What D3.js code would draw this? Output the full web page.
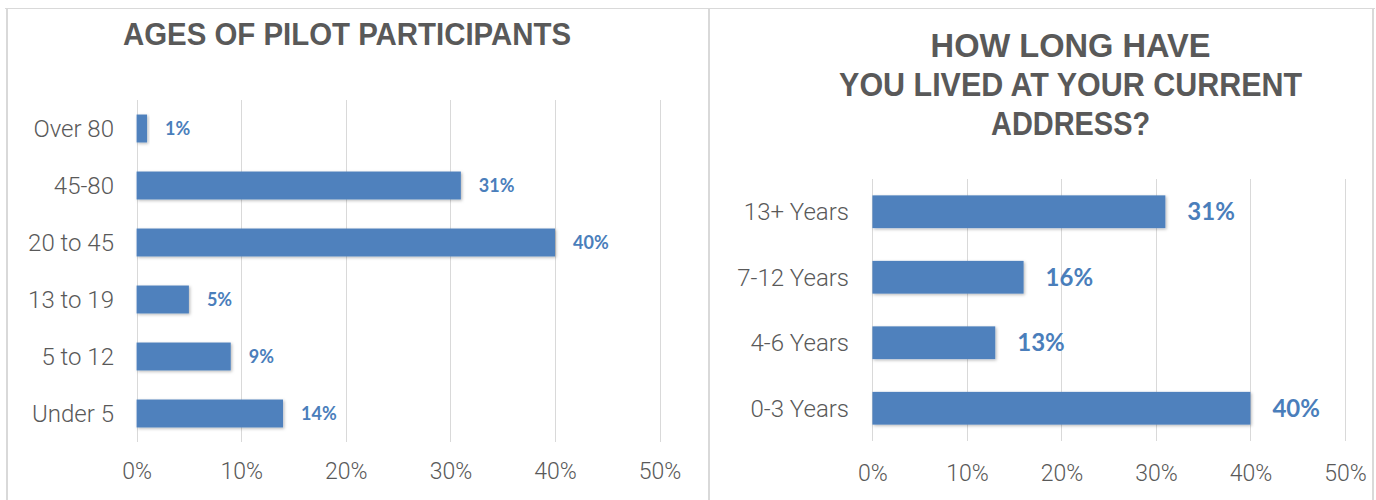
<!DOCTYPE html>
<html>
<head>
<meta charset="utf-8">
<script src="https://cdn.jsdelivr.net/npm/d3@7"></script>
<style>
  html, body { margin: 0; padding: 0; background: #ffffff; }
  svg { display: block; }
</style>
</head>
<body>
<svg id="chart" width="1376" height="500"></svg>
<script>
// Age groups of pilot participants (top to bottom)
const ageCategories = ["Over 80", "45-80", "20 to 45", "13 to 19", "5 to 12", "Under 5"];
const ageValues = [0.01, 0.31, 0.40, 0.05, 0.09, 0.14];

// Time lived at current address (top to bottom)
const tenureCategories = ["13+ Years", "7-12 Years", "4-6 Years", "0-3 Years"];
const tenureValues = [0.31, 0.16, 0.13, 0.40];

// Shared axis ticks
const tickValues = [0, 0.1, 0.2, 0.3, 0.4, 0.5];
const tickLabels = ["0%", "10%", "20%", "30%", "40%", "50%"];

const titleLeft = ["AGES OF PILOT PARTICIPANTS"];
const titleRight = ["HOW LONG HAVE", "YOU LIVED AT YOUR CURRENT", "ADDRESS?"];

const svg = d3.select("#chart");
const BAR = "#4f81bd";
const LABEL_BLUE = "#4a7ebb";
const TEXT = "#595959";
const GRID = "#d9d9d9";
const LABEL_FONT = "Roboto, 'Open Sans', sans-serif";
const TITLE_FONT = "'Liberation Sans Narrow', 'Liberation Sans', Arial, sans-serif";
const VALUE_FONT = "Lato, 'Open Sans', sans-serif";

// soft shadow under the bars
const defs = svg.append("defs");
const f = defs.append("filter").attr("id", "barShadow")
  .attr("x", "-10%").attr("y", "-30%").attr("width", "130%").attr("height", "180%");
f.append("feDropShadow").attr("dx", 1.2).attr("dy", 1.2)
  .attr("stdDeviation", 1.6).attr("flood-color", "#000").attr("flood-opacity", 0.28);

// panel frames
const frame = svg.append("g").attr("fill", GRID);
frame.append("rect").attr("x", 5).attr("y", 8).attr("width", 1370).attr("height", 1);
frame.append("rect").attr("x", 6).attr("y", 8).attr("width", 2).attr("height", 492);
frame.append("rect").attr("x", 708).attr("y", 8).attr("width", 2).attr("height", 492);
frame.append("rect").attr("x", 1372).attr("y", 8).attr("width", 2).attr("height", 492);

function drawPanel(cfg) {
  const g = svg.append("g");
  const x = d3.scaleLinear().domain([0, 0.5]).range([cfg.x0, cfg.x1]);
  const y = d3.scaleBand().domain(cfg.categories).range([cfg.y0, cfg.y1])
    .paddingInner(cfg.pad).paddingOuter(cfg.pad / 2);

  // title
  const t = g.append("text")
    .attr("font-family", TITLE_FONT).attr("font-weight", 700)
    .attr("font-size", cfg.titleSize).attr("fill", TEXT)
    .attr("text-anchor", "middle");
  cfg.title.forEach((line, i) => {
    t.append("tspan").attr("x", cfg.titleX).attr("y", cfg.titleY + i * cfg.titleLead)
      .attr("textLength", cfg.titleWidths[i]).attr("lengthAdjust", "spacingAndGlyphs")
      .text(line);
  });

  // vertical gridlines
  g.append("g").selectAll("line").data(tickValues).join("line")
    .attr("x1", d => Math.round(x(d)) + 0.5).attr("x2", d => Math.round(x(d)) + 0.5)
    .attr("y1", cfg.y0).attr("y2", cfg.y1)
    .attr("stroke", GRID).attr("stroke-width", 1);

  // bottom axis labels
  const xAxis = d3.axisBottom(x).tickValues(tickValues)
    .tickFormat((d, i) => tickLabels[i]).tickSize(0).tickPadding(0);
  const ax = g.append("g").attr("transform", `translate(0,${cfg.tickY})`).call(xAxis);
  ax.select(".domain").remove();
  ax.selectAll("text").attr("font-family", LABEL_FONT).attr("font-weight", 300)
    .attr("font-size", 23).attr("fill", TEXT).attr("dy", "0.35em");

  // category axis labels
  const yAxis = d3.axisLeft(y).tickSize(0).tickPadding(0);
  const ay = g.append("g").attr("transform", `translate(${cfg.catX},0)`).call(yAxis);
  ay.select(".domain").remove();
  ay.selectAll("text").attr("font-family", LABEL_FONT).attr("font-weight", 300)
    .attr("font-size", 24).attr("fill", TEXT).attr("dy", "0.35em");

  const rows = cfg.categories.map((c, i) => ({ c, v: cfg.values[i] }));

  // bars
  g.append("g").selectAll("rect").data(rows).join("rect")
    .attr("x", x(0)).attr("y", d => y(d.c))
    .attr("width", d => x(d.v) - x(0)).attr("height", y.bandwidth())
    .attr("fill", BAR).attr("filter", "url(#barShadow)");

  // value labels
  g.append("g").selectAll("text").data(rows).join("text")
    .attr("x", d => x(d.v) + cfg.labelGap)
    .attr("y", d => y(d.c) + y.bandwidth() / 2)
    .attr("dy", "0.35em")
    .attr("font-family", VALUE_FONT).attr("font-weight", 700)
    .attr("font-size", cfg.valueSize).attr("fill", LABEL_BLUE)
    .text(d => d3.format(".0%")(d.v));
}

drawPanel({
  categories: ageCategories, values: ageValues,
  x0: 136.6, x1: 659.6, y0: 100, y1: 442, pad: 0.51,
  catX: 114, tickY: 471, labelGap: 18, valueSize: 18,
  title: titleLeft, titleX: 347, titleY: 45, titleLead: 0,
  titleSize: 32, titleWidths: [448]
});

drawPanel({
  categories: tenureCategories, values: tenureValues,
  x0: 872.4, x1: 1344.9, y0: 179, y1: 441, pad: 0.5,
  catX: 849, tickY: 473, labelGap: 22, valueSize: 24,
  title: titleRight, titleX: 1070.6, titleY: 57, titleLead: 39,
  titleSize: 33, titleWidths: [280, 463, 159]
});
</script>
</body>
</html>
